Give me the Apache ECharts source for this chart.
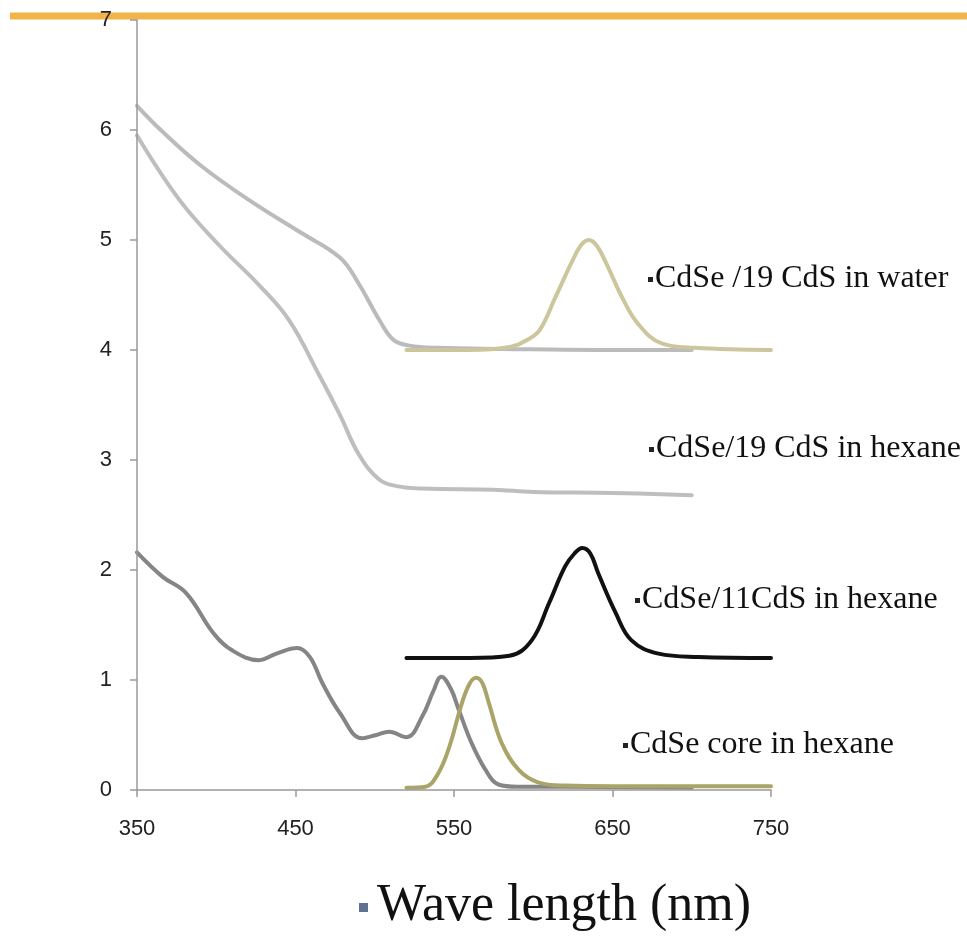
<!DOCTYPE html>
<html>
<head>
<meta charset="utf-8">
<script src="https://cdn.jsdelivr.net/npm/echarts@6/dist/echarts.min.js"></script>
<style>
html,body{margin:0;padding:0;background:#fff;}
#chart{width:967px;height:945px;}
</style>
</head>
<body>
<div id="chart"></div>
<script>
// ---- data ----
var xTicks = [350, 450, 550, 650, 750];
var yTicks = [0, 1, 2, 3, 4, 5, 6, 7];

// CdSe/19 CdS in water – absorption
var waterAbsX = [350, 365, 390, 421, 453, 478, 490, 503, 512, 522, 540, 580, 640, 700];
var waterAbsY = [6.22, 6.0, 5.68, 5.36, 5.07, 4.84, 4.6, 4.27, 4.09, 4.04, 4.02, 4.01, 4.0, 4.0];
// CdSe/19 CdS in water – emission
var waterPLX = [520, 560, 586, 596, 604, 614, 624, 630, 635, 640, 646, 656, 666, 681, 702, 750];
var waterPLY = [4.0, 4.0, 4.03, 4.09, 4.18, 4.48, 4.79, 4.95, 5.0, 4.95, 4.79, 4.48, 4.24, 4.06, 4.02, 4.0];
// CdSe/19 CdS in hexane – absorption
var hex19AbsX = [350, 377, 402, 427, 446, 465, 478, 490, 503, 515, 530, 575, 600, 650, 700];
var hex19AbsY = [5.95, 5.36, 4.95, 4.59, 4.27, 3.77, 3.41, 3.05, 2.82, 2.76, 2.74, 2.73, 2.71, 2.70, 2.68];
// CdSe/11CdS in hexane – emission
var hex11PLX = [520, 560, 585, 599, 610, 620, 626, 631, 636, 641, 652, 662, 679, 704, 750];
var hex11PLY = [1.2, 1.2, 1.22, 1.36, 1.7, 2.03, 2.15, 2.2, 2.15, 1.97, 1.61, 1.36, 1.24, 1.21, 1.2];
// CdSe core in hexane – absorption
var coreAbsX = [350, 366, 381, 398, 410, 427, 438, 451, 459, 467, 478, 492, 501, 509, 520, 530, 537, 542, 548, 553, 561, 570, 578, 590, 620, 700];
var coreAbsY = [2.16, 1.94, 1.79, 1.43, 1.27, 1.18, 1.24, 1.29, 1.21, 0.97, 0.70, 0.47, 0.50, 0.53, 0.48, 0.67, 0.9, 1.03, 0.92, 0.73, 0.43, 0.18, 0.05, 0.03, 0.03, 0.02];
// CdSe core in hexane – emission
var corePLX = [520, 532, 540, 547, 555, 560, 564, 568, 572, 580, 591, 603, 620, 650, 750];
var corePLY = [0.02, 0.03, 0.15, 0.39, 0.79, 0.97, 1.02, 0.97, 0.79, 0.43, 0.18, 0.07, 0.04, 0.035, 0.035];

var labels = ['CdSe /19 CdS in water', 'CdSe/19 CdS in hexane', 'CdSe/11CdS in hexane', 'CdSe core in hexane'];
var xTitle = 'Wave length (nm)';

function pairs(xs, ys) { return xs.map(function (x, i) { return [x, ys[i]]; }); }

var chart = echarts.init(document.getElementById('chart'), null, {renderer: 'canvas'});

function mkLine(name, xs, ys, color, w) {
  return {
    name: name, type: 'line', data: pairs(xs, ys), smooth: 0.4,
    showSymbol: false, symbol: 'none',
    lineStyle: {color: color, width: w, cap: 'round', join: 'round'},
    animation: false
  };
}

var serif = '"Liberation Serif", "Times New Roman", serif';

function label(text, bx, y) {
  return [
    {type: 'rect', shape: {x: bx, y: y - 2, width: 5, height: 5}, style: {fill: '#222'}, z: 10},
    {type: 'text', x: bx + 7, y: y, style: {text: text, font: '32px ' + serif, fill: '#111', align: 'left', verticalAlign: 'middle'}, z: 10}
  ];
}

var graphics = [
  {type: 'line', shape: {x1: 10, y1: 16, x2: 967, y2: 16}, style: {stroke: '#F2B24C', lineWidth: 7}, z: -10}
];
graphics = graphics.concat(label(labels[0], 648, 279));
graphics = graphics.concat(label(labels[1], 649, 449));
graphics = graphics.concat(label(labels[2], 635, 600));
graphics = graphics.concat(label(labels[3], 623, 745));
graphics.push({type: 'rect', shape: {x: 359, y: 903, width: 9, height: 9}, style: {fill: '#5E7294'}, z: 10});
graphics.push({type: 'text', x: 377, y: 906, style: {text: xTitle, font: '52px ' + serif, fill: '#111', align: 'left', verticalAlign: 'middle'}, z: 10});

chart.setOption({
  animation: false,
  backgroundColor: '#fff',
  grid: {left: 137, right: 196, top: 20, bottom: 155, containLabel: false},
  xAxis: {
    type: 'value', min: 350, max: 750, interval: 100,
    axisLine: {show: true, lineStyle: {color: '#999', width: 1.5}},
    axisTick: {show: true, inside: false, length: 7, lineStyle: {color: '#999', width: 1.5}},
    axisLabel: {margin: 28, fontSize: 22, color: '#222', fontFamily: '"Liberation Sans", Arial, sans-serif',
      formatter: function (v) { return xTicks.indexOf(v) >= 0 ? String(v) : ''; }},
    splitLine: {show: false}, z: 5
  },
  yAxis: {
    type: 'value', min: 0, max: 7, interval: 1,
    axisLine: {show: true, lineStyle: {color: '#999', width: 1.5}},
    axisTick: {show: true, inside: false, length: 7, lineStyle: {color: '#999', width: 1.5}},
    axisLabel: {margin: 25, fontSize: 22, color: '#222', fontFamily: '"Liberation Sans", Arial, sans-serif',
      formatter: function (v) { return yTicks.indexOf(v) >= 0 ? String(v) : ''; }},
    splitLine: {show: false}, z: 5
  },
  graphic: graphics,
  series: [
    mkLine('water abs', waterAbsX, waterAbsY, '#BBBBBB', 4),
    mkLine('hexane19 abs', hex19AbsX, hex19AbsY, '#BEBEBE', 4),
    mkLine('water PL', waterPLX, waterPLY, '#CCC69C', 4),
    mkLine('hexane11 PL', hex11PLX, hex11PLY, '#111111', 4),
    mkLine('core abs', coreAbsX, coreAbsY, '#858585', 4),
    mkLine('core PL', corePLX, corePLY, '#ABA468', 4)
  ]
});
</script>
</body>
</html>
